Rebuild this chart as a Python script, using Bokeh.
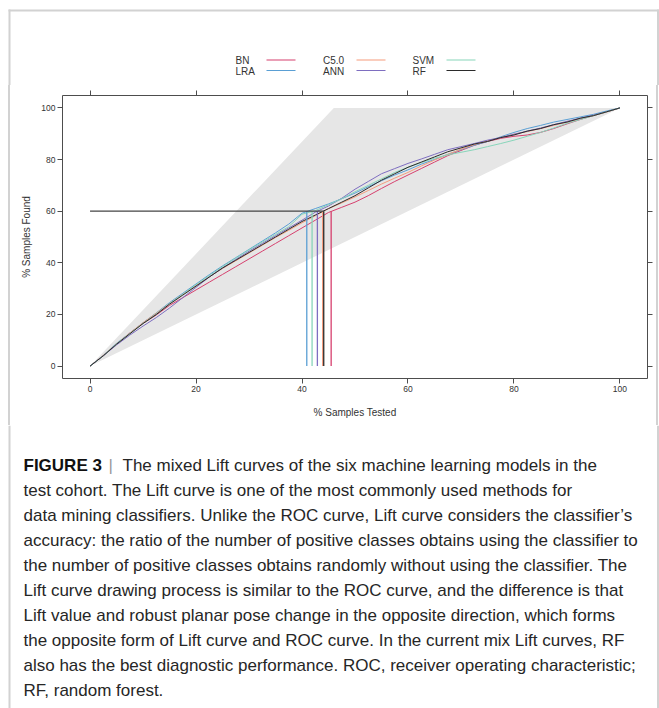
from bokeh.plotting import figure
from bokeh.models import Range1d, LinearAxis, FixedTicker, BoxAnnotation
from bokeh.layouts import column, row
from bokeh.embed import file_html
from bokeh.resources import INLINE
from bokeh.core.properties import value

# ---------------- data ----------------
MODELS = ["BN", "LRA", "C5.0", "ANN", "SVM", "RF"]
COLORS = ["#D6406E", "#5A9FD4", "#F59B7C", "#7E6EC0", "#88D5BA", "#2B2B2B"]

X = [0, 2.5, 5, 7.5, 10, 12.5, 15, 17.5, 20, 22.5, 25, 27.5, 30, 32.5, 35, 37.5,
     40, 42.5, 45, 47.5, 50, 52.5, 55, 57.5, 60, 62.5, 65, 67.5, 70, 72.5, 75,
     77.5, 80, 82.5, 85, 87.5, 90, 92.5, 95, 97.5, 100]

BN = [0, 4, 8.5, 12.8, 16.5, 19.8, 23.5, 26.5, 29.5, 32.5, 35.5, 38.5, 41.5, 44.5,
      47.5, 50.5, 53.5, 56.5, 59.5, 61.5, 63.5, 66, 68.8, 71.5, 74, 76.5, 79, 81.5,
      83.5, 85.5, 87, 88.2, 89, 89.5, 90.5, 92, 93.8, 95.5, 97, 98.5, 100]
LRA = [0, 4.2, 8.8, 12.8, 16.8, 20.6, 24.6, 28.2, 31.8, 35.4, 38.8, 42, 45.2, 48.4,
       51.6, 55, 59.2, 61, 62.8, 64.8, 67, 69.5, 71.8, 74, 76, 78.2, 80, 82, 83.8,
       85.5, 87, 88.8, 90.5, 92, 93.2, 94.5, 95.5, 96.5, 97.5, 98.8, 100]
C50 = [0, 4.2, 8.6, 12.8, 16.8, 20.5, 24.2, 27.8, 31.2, 34.6, 37.8, 40.8, 43.8, 46.8,
       49.8, 52.6, 55.5, 58.2, 61, 63.2, 65.5, 68, 70.5, 72.8, 75, 77.5, 79.8, 82, 84,
       85.8, 87.2, 88.5, 89.8, 90.8, 92, 93.2, 94.5, 95.8, 97, 98.4, 100]
ANN = [0, 4, 8.2, 12, 15.5, 18.8, 22.5, 26.5, 30.5, 34.5, 38, 41.3, 44.5, 47.5, 50.5,
       53.5, 56.5, 59.6, 62, 65, 68.5, 71.5, 74.5, 76.5, 78.5, 80.2, 82, 83.8, 85,
       86.2, 87.5, 88.5, 89.8, 91, 92.2, 93.5, 94.8, 96, 97.2, 98.5, 100]
SVM = [0, 4, 8.6, 12.6, 16.5, 20.2, 24.2, 27.8, 31.5, 35, 38.5, 41.8, 45, 48, 51, 54,
       58.8, 60.2, 62.5, 64.8, 67.5, 70, 72.5, 75, 77, 78.8, 80.5, 81.8, 82.8, 83.8,
       85, 86.2, 87.5, 89, 90.5, 92.2, 94, 95.5, 97, 98.5, 100]
RF = [0, 4, 8.5, 12.5, 16.5, 20, 24, 27.5, 31, 34.5, 38, 41, 44, 47, 50, 53, 56, 58.5,
      61, 63.5, 66, 69, 72, 74.5, 77, 79, 81, 83, 84.5, 86, 87, 88.5, 89.5, 91, 92,
      93.5, 94.5, 96, 97, 98.5, 100]
SERIES = [BN, LRA, C50, ANN, SVM, RF]

CUTOFF_FOUND = 60
CUTOFF_TESTED = [45.5, 40.9, 43.9, 42.9, 41.9, 44.1]

BAND_X = [0, 46, 100, 0]
BAND_Y = [0, 100, 100, 0]

TICKS = [0, 20, 40, 60, 80, 100]

CAPTION_HEAD = "FIGURE 3"
CAPTION_FIRST = "The mixed Lift curves of the six machine learning models in the"
CAPTION = [
    "test cohort. The Lift curve is one of the most commonly used methods for",
    "data mining classifiers. Unlike the ROC curve, Lift curve considers the classifier\u2019s",
    "accuracy: the ratio of the number of positive classes obtains using the classifier to",
    "the number of positive classes obtains randomly without using the classifier. The",
    "Lift curve drawing process is similar to the ROC curve, and the difference is that",
    "Lift value and robust planar pose change in the opposite direction, which forms",
    "the opposite form of Lift curve and ROC curve. In the current mix Lift curves, RF",
    "also has the best diagnostic performance. ROC, receiver operating characteristic;",
    "RF, random forest.",
]

FONT = "Liberation Sans"
CAPFONT = "Liberation Sans"
CAPSIZE = "17px"
BORDER = "#d2d2d2"
TXT = "#333333"
CAPTXT = "#262626"
W = 659

def blank(w, h):
    f = figure(width=w, height=h, x_range=Range1d(0, w), y_range=Range1d(h, 0),
               output_backend="svg", toolbar_location=None, min_border=0,
               x_axis_type=None, y_axis_type=None, outline_line_color=None)
    f.xgrid.visible = False
    f.ygrid.visible = False
    return f

# ---------------- legend strip (page y 0..85) ----------------
H1 = 85
leg = blank(W, H1)
leg.quad(left=[8, 8, 656.5], right=[10, 658.5, 658.5], top=[9, 9, 9], bottom=[H1, 11, H1],
         fill_color=BORDER, line_color=None)
col_text_x = [235, 322.5, 412]
col_line_x = [266, 356, 446]
row_y = [60, 70.5]
for i, (name, c) in enumerate(zip(MODELS, COLORS)):
    ci = i // 2
    ri = i % 2
    leg.text(x=[col_text_x[ci]], y=[row_y[ri]], text=[name], text_font=value(FONT),
             text_font_size="10px", text_color=TXT, text_baseline="middle", text_align="left")
    leg.segment(x0=[col_line_x[ci]], x1=[col_line_x[ci] + 29], y0=[row_y[ri] - 0.5],
                y1=[row_y[ri] - 0.5], line_color=c, line_width=1.2)

# ---------------- main chart (page y 85..425) ----------------
H2 = 340
GRAD = ("linear-gradient(to right, white 0px, white 8px, {b} 8px, {b} 10px, white 10px, "
        "white 656.5px, {b} 656.5px, {b} 658.5px, white 658.5px)").format(b=BORDER)
p = figure(width=W, height=H2, x_range=Range1d(-5.2, 105.2), y_range=Range1d(-4.8, 104.8),
           output_backend="svg", toolbar_location=None,
           min_border_left=62, min_border_right=12, min_border_top=10, min_border_bottom=47,
           x_axis_label="% Samples Tested", y_axis_label="% Samples Found",
           border_fill_color=None, background_fill_color="white",
           styles={"background": GRAD})
p.xgrid.visible = False
p.ygrid.visible = False
p.outline_line_color = "#4d4d4d"
p.outline_line_width = 1

p.patch(BAND_X, BAND_Y, fill_color="#E6E6E6", line_color=None)

for name, ys, c in zip(MODELS, SERIES, COLORS):
    p.line(X, ys, line_color=c, line_width=1)

for name, c, xc in zip(MODELS, COLORS, CUTOFF_TESTED):
    p.segment(x0=[xc], y0=[0], x1=[xc], y1=[CUTOFF_FOUND], line_color=c, line_width=1.3)
p.segment(x0=[0], y0=[CUTOFF_FOUND], x1=[CUTOFF_TESTED[5]], y1=[CUTOFF_FOUND],
          line_color="#444444", line_width=1.2)

def style_axis(ax):
    ax.ticker = FixedTicker(ticks=TICKS)
    ax.major_tick_out = 5
    ax.major_tick_in = 0
    ax.minor_tick_out = 0
    ax.minor_tick_in = 0
    ax.axis_line_color = None
    ax.major_tick_line_color = "#4d4d4d"
    ax.major_label_text_font = FONT
    ax.major_label_text_color = TXT
    ax.major_label_text_font_size = "8.5px"
    ax.axis_label_text_font = FONT
    ax.axis_label_text_font_style = "normal"
    ax.axis_label_text_font_size = "10px"
    ax.axis_label_text_color = TXT

style_axis(p.xaxis[0])
style_axis(p.yaxis[0])
p.xaxis[0].major_label_standoff = 2
p.xaxis[0].axis_label_standoff = 12
p.yaxis[0].major_label_standoff = 2
p.yaxis[0].axis_label_standoff = 6

for loc in ("above", "right"):
    ax = LinearAxis()
    style_axis(ax)
    ax.major_label_overrides = {t: "" for t in TICKS}
    ax.major_label_standoff = 0
    p.add_layout(ax, loc)

for lft in (8, 656.5):
    p.add_layout(BoxAnnotation(left=lft, right=lft + 2, top=0, bottom=H2,
                               left_units="canvas", right_units="canvas",
                               top_units="canvas", bottom_units="canvas",
                               fill_color=BORDER, fill_alpha=1, line_color=None))

mid = row(p, spacing=0)

# ---------------- caption (page y 425..708) ----------------
H3 = 708 - H1 - H2
cap = blank(W, H3)
cap.quad(left=[8, 656.5], right=[10, 658.5], top=[0, 0], bottom=[H3, H3],
         fill_color=BORDER, line_color=None)
y0 = 40
dy = 25
cap.text(x=[23], y=[y0], text=[CAPTION_HEAD], text_font=value(CAPFONT), text_font_style="bold",
         text_font_size=CAPSIZE, text_color="#111111", text_baseline="middle")
cap.text(x=[108], y=[y0], text=["|"], text_font=value(CAPFONT),
         text_font_size=CAPSIZE, text_color="#999999", text_baseline="middle")
cap.text(x=[122], y=[y0], text=[CAPTION_FIRST], text_font=value(CAPFONT),
         text_font_size=CAPSIZE, text_color=CAPTXT, text_baseline="middle")
cap.text(x=[23] * len(CAPTION), y=[y0 + dy * (i + 1) for i in range(len(CAPTION))],
         text=CAPTION, text_font=value(CAPFONT), text_font_size=CAPSIZE,
         text_color=CAPTXT, text_baseline="middle")

layout = column(leg, mid, cap, spacing=0)
open("out.html", "w").write(file_html(layout, INLINE))
